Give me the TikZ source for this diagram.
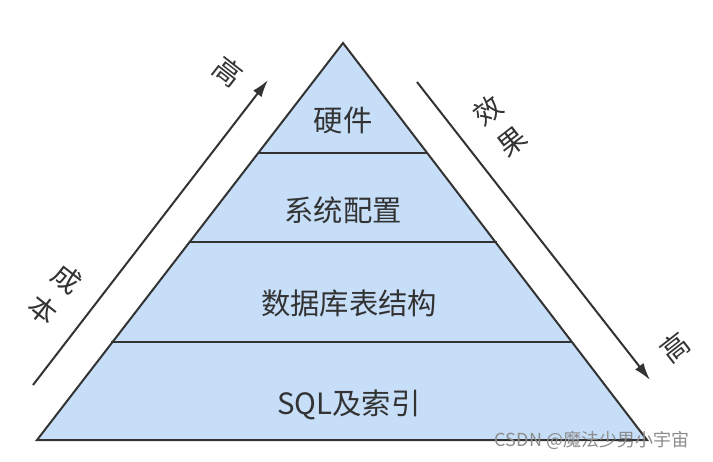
\documentclass[tikz,border=0pt]{standalone}
\usepackage{fontspec}
\setmainfont{Noto Sans CJK SC}
\usetikzlibrary{arrows.meta}
\definecolor{layerblue}{RGB}{198,222,248}
\definecolor{inkgray}{RGB}{51,51,51}
\tikzset{
  layertext/.style={text=inkgray,font=\fontsize{22}{26}\selectfont},
  sidetext/.style={text=inkgray,align=center,font=\fontsize{21}{30}\selectfont},
  trend/.style={draw=inkgray,line width=1.5pt,-{Latex[length=13pt,width=8pt]}},
}
\begin{document}
\begin{tikzpicture}[x=0.75pt,y=0.75pt,yscale=-1,xscale=1]
\useasboundingbox (0,0) rectangle (713,461);

% pyramid
\coordinate (apex) at (343,43);
\coordinate (baseL) at (37,440);
\coordinate (baseR) at (647,440);
\draw [fill=layerblue,draw=inkgray,line width=1.5pt,line join=miter] (apex) -- (baseR) -- (baseL) -- cycle;

% layer lines
\draw [inkgray,line width=1.3pt] (258,153) -- (427,153);
\draw [inkgray,line width=1.3pt] (189,242) -- (497,242);
\draw [inkgray,line width=1.3pt] (111,342) -- (572,342);

\node [layertext] (hw) at (343,120) {硬件};
\node [layertext] (sys) at (343,210) {系统配置};
\node [layertext] (tbl) at (349,303) {数据库表结构};
\node [layertext] (sql) at (349,405) {SQL及索引};

% cost arrow
\coordinate (costS) at (33,385);
\coordinate (costE) at (268,80);
\draw [trend] (costS) -- (costE);
\node [sidetext,rotate=-38] (cost) at (55,294) {成\\本};
\node [sidetext,rotate=-38] (costhi) at (228,72) {高};

% effect arrow
\coordinate (effS) at (417,82);
\coordinate (effE) at (650,380);
\draw [trend] (effS) -- (effE);
\node [sidetext,rotate=38] (eff) at (500,126) {效\\果};
\node [sidetext,rotate=38] (effhi) at (675,347) {高};

\node [text=black!45,font=\fontsize{13.5}{16}\selectfont] (mark) at (592,440) {CSDN @魔法少男小宇宙};

\end{tikzpicture}
\end{document}
